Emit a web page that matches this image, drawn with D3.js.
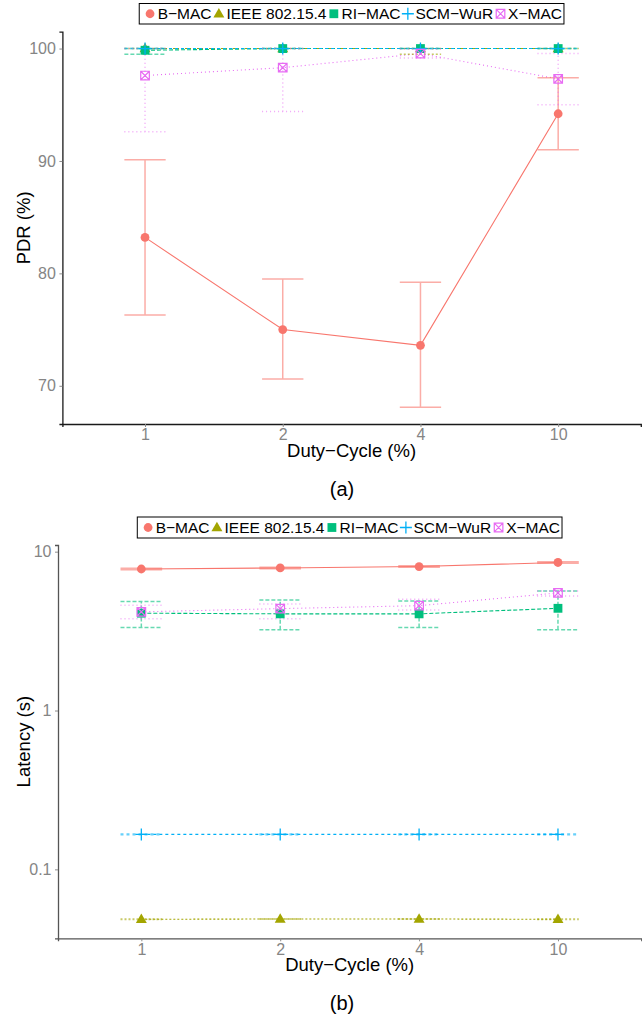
<!DOCTYPE html>
<html>
<head>
<meta charset="utf-8">
<script src="https://cdn.jsdelivr.net/npm/d3@7"></script>
<style>
  body { margin: 0; background: #fff; }
  svg { display: block; }
  text { font-family: "Liberation Sans", Arial, Helvetica, sans-serif; }
</style>
</head>
<body>
<svg id="fig" width="642" height="1019"></svg>
<script>
// ---- data -------------------------------------------------------------
const dutyCycles = ["1", "2", "4", "10"];
const protocols = ["B\u2212MAC", "IEEE 802.15.4", "RI\u2212MAC", "SCM\u2212WuR", "X\u2212MAC"];
const colors = ["#F8766D", "#A3A500", "#00BF7D", "#00B0F6", "#E76BF3"];
const dashes = [null, "2,2", "4,2", "3,3", "1,3"];
const shapes = ["circle", "triangle", "square", "plus", "boxx"];

// Packet delivery ratio (%): one row per protocol, one column per duty cycle
const pdrMean = [
  [83.2, 75.0, 73.6, 94.2],
  [100, 100, 100, 100],
  [99.85, 100, 100, 100],
  [100, 100, 100, 100],
  [97.6, 98.3, 99.55, 97.3]
];
const pdrLow = [
  [76.3, 70.6, 68.1, 91.0],
  [100, 100, 99.5, 100],
  [99.5, 100, 100, 100],
  [100, 100, 100, 100],
  [92.6, 94.4, 99.15, 95.0]
];
const pdrHigh = [
  [90.1, 79.5, 79.2, 97.4],
  [100, 100, 100, 100],
  [100, 100, 100, 100],
  [100, 100, 100, 100],
  [100, 100, 99.95, 99.55]
];
const pdrTicks = [70, 80, 90, 100];

// Latency (s)
const latMean = [
  [7.78, 7.90, 8.06, 8.55],
  [0.0485, 0.0487, 0.0487, 0.0485],
  [4.10, 4.06, 4.06, 4.40],
  [0.166, 0.166, 0.166, 0.166],
  [4.18, 4.38, 4.57, 5.50]
];
const latLow = [
  [7.70, 7.82, 7.98, 8.45],
  [0.0483, 0.0485, 0.0485, 0.0483],
  [3.33, 3.22, 3.33, 3.23],
  [0.165, 0.165, 0.165, 0.165],
  [3.78, 3.78, 4.30, 5.26]
];
const latHigh = [
  [7.86, 7.98, 8.14, 8.65],
  [0.0487, 0.0489, 0.0489, 0.0487],
  [4.85, 4.97, 4.90, 5.66],
  [0.167, 0.167, 0.167, 0.167],
  [4.60, 4.69, 5.01, 5.66]
];
const latTicks = [0.1, 1, 10];

// ---- drawing ----------------------------------------------------------
const svg = d3.select("#fig");

function drawSymbol(g, shape, color, cx, cy) {
  if (shape === "circle") {
    g.append("circle").attr("cx", cx).attr("cy", cy).attr("r", 4.4).attr("fill", color);
  } else if (shape === "triangle") {
    g.append("path").attr("transform", `translate(${cx},${cy + 0.5})`)
      .attr("d", d3.symbol(d3.symbolTriangle, 52)()).attr("fill", color);
  } else if (shape === "square") {
    g.append("path").attr("transform", `translate(${cx},${cy})`)
      .attr("d", d3.symbol(d3.symbolSquare, 78)()).attr("fill", color);
  } else if (shape === "plus") {
    const a = 6;
    g.append("path").attr("d", `M${cx - a},${cy}H${cx + a}M${cx},${cy - a}V${cy + a}`)
      .attr("stroke", color).attr("stroke-width", 1.3).attr("fill", "none");
  } else if (shape === "boxx") {
    const h = 4.3;
    g.append("path")
      .attr("d", `M${cx - h},${cy - h}H${cx + h}V${cy + h}H${cx - h}Z` +
                 `M${cx - h},${cy - h}L${cx + h},${cy + h}M${cx + h},${cy - h}L${cx - h},${cy + h}`)
      .attr("stroke", color).attr("stroke-width", 1.2).attr("fill", "none");
  }
}

function drawLegend(cx, top, bottom) {
  const g = svg.append("g");
  const fs = 15.5;
  const baseline = bottom - 5;
  const items = [];
  let cursor = 0;
  protocols.forEach((name, i) => {
    const t = g.append("text").attr("font-size", fs).attr("fill", "#000").text(name);
    const w = t.node().getComputedTextLength();
    const keyX = cursor + 7.4;
    const textX = keyX + 7.6;
    items.push({ t, keyX, textX, i });
    cursor = textX + w;
  });
  const total = cursor + 5.4;
  const x0 = cx - total / 2;
  g.insert("rect", ":first-child")
    .attr("x", x0).attr("y", top).attr("width", total).attr("height", bottom - top)
    .attr("fill", "#fff").attr("stroke", "#000").attr("stroke-width", 1);
  items.forEach(it => {
    it.t.attr("x", x0 + 3.4 + it.textX).attr("y", baseline);
    drawSymbol(g, shapes[it.i], colors[it.i], x0 + 3.4 + it.keyX, (top + bottom) / 2);
  });
}

function drawPanel(p) {
  const g = svg.append("g");
  const x = d3.scalePoint().domain(dutyCycles).range([p.left, p.right]).padding(0.6);
  const y = p.scale.domain(p.domain).range([p.bottom, p.top]);
  const cap = x.step() * 0.15;

  // axes
  const yAxis = g.append("g").attr("transform", `translate(${p.left},0)`)
    .call(d3.axisLeft(y).tickValues(p.ticks).tickFormat(p.fmt).tickSizeOuter(0).tickSize(3).tickPadding(3.5));
  const xAxis = g.append("g").attr("transform", `translate(0,${p.bottom})`)
    .call(d3.axisBottom(x).tickSizeOuter(0).tickSize(3).tickPadding(2));
  [yAxis, xAxis].forEach(a => {
    a.select(".domain").attr("stroke", p.axisColor).attr("stroke-width", 1.3);
    a.selectAll(".tick line").attr("stroke", "#8c8c8c").attr("stroke-width", 1);
    a.selectAll(".tick text").attr("fill", "#858585").attr("font-size", 16)
      .attr("font-family", "Liberation Sans, Arial, sans-serif");
  });

  // axis titles
  g.append("text").attr("x", (p.left + p.right) / 2).attr("y", p.bottom + 33)
    .attr("text-anchor", "middle").attr("font-size", 18.5).attr("fill", "#000")
    .text("Duty\u2212Cycle (%)");
  g.append("text").attr("transform", `translate(29.5,${(p.top + p.bottom) / 2}) rotate(-90)`)
    .attr("text-anchor", "middle").attr("font-size", 18.5).attr("fill", "#000")
    .text(p.yTitle);
  g.append("text").attr("x", 342).attr("y", p.bottom + 72)
    .attr("text-anchor", "middle").attr("font-size", 20)
    .attr("font-family", "Liberation Serif, Times New Roman, serif").attr("fill", "#000")
    .text(p.caption);

  const series = protocols.map((name, i) => dutyCycles.map((d, j) => ({
    d, m: p.mean[i][j], lo: p.low[i][j], hi: p.high[i][j]
  })));

  // connecting lines
  series.forEach((pts, i) => {
    g.append("path")
      .attr("d", d3.line().x(q => x(q.d)).y(q => y(q.m))(pts))
      .attr("fill", "none").attr("stroke", colors[i]).attr("stroke-width", 1.1)
      .attr("stroke-dasharray", dashes[i]);
  });

  // error bars
  series.forEach((pts, i) => {
    pts.forEach(q => {
      const cx = x(q.d), y0 = y(q.lo), y1 = y(q.hi);
      g.append("path")
        .attr("d", `M${cx},${y0}V${y1}M${cx - cap},${y0}H${cx + cap}M${cx - cap},${y1}H${cx + cap}`)
        .attr("fill", "none").attr("stroke", colors[i]).attr("stroke-width", 1.5)
        .attr("stroke-opacity", 0.6).attr("stroke-dasharray", dashes[i]);
    });
  });

  // points
  series.forEach((pts, i) => {
    pts.forEach(q => drawSymbol(g, shapes[i], colors[i], x(q.d), y(q.m)));
  });

  drawLegend((p.left + p.right) / 2, p.legendTop, p.legendBottom);
}

drawPanel({
  left: 62.4, right: 640.8, top: 31.7, bottom: 424,
  scale: d3.scaleLinear(), domain: [66.6, 101.5],
  ticks: pdrTicks, fmt: d3.format("d"),
  mean: pdrMean, low: pdrLow, high: pdrHigh,
  yTitle: "PDR (%)", caption: "(a)", axisColor: "#1a1a1a",
  legendTop: 3.5, legendBottom: 24
});

drawPanel({
  left: 58, right: 641.3, top: 545, bottom: 938.3,
  scale: d3.scaleLog(), domain: [Math.pow(10, -1.434), Math.pow(10, 1.042)],
  ticks: latTicks, fmt: d => String(d),
  mean: latMean, low: latLow, high: latHigh,
  yTitle: "Latency (s)", caption: "(b)", axisColor: "#555",
  legendTop: 517, legendBottom: 538
});
</script>
</body>
</html>
